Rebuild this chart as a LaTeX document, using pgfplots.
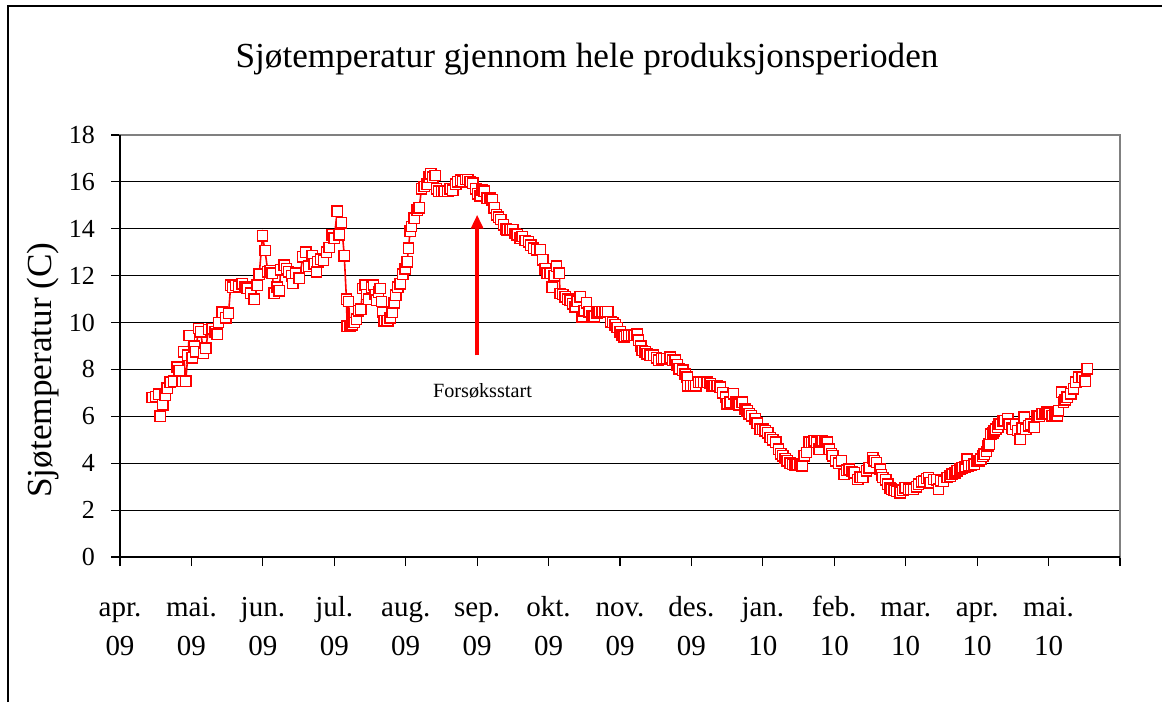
\documentclass[border=0pt]{standalone}
\usepackage{pgfplots}
\pgfplotsset{compat=1.18}
\usepackage{fontspec}
\setmainfont{Liberation Serif}
\usetikzlibrary{arrows.meta}
\definecolor{sred}{RGB}{255,0,0}
\begin{document}
\begin{tikzpicture}
\useasboundingbox (0,0) rectangle (581pt,-351pt);
\fill[white] (0,0) rectangle (581pt,-351pt);
\draw[line width=0.6pt] (4pt,-351pt) -- (4pt,-3pt) -- (581pt,-3pt);
\node[anchor=base, font=\fontsize{17.6}{20}\selectfont] at (293.5pt,-33.5pt) {Sjøtemperatur gjennom hele produksjonsperioden};
\node[anchor=base, rotate=90, font=\fontsize{17.6}{20}\selectfont] at (25.5pt,-185pt) {Sjøtemperatur (C)};
\begin{axis}[
  at={(60pt,-278.5pt)}, anchor=south west,
  width=500pt, height=211pt, scale only axis,
  xmin=0, xmax=14, ymin=0, ymax=18,
  xtick={0,...,14},
  xticklabels={{apr.\\09},{mai.\\09},{jun.\\09},{jul.\\09},{aug.\\09},{sep.\\09},{okt.\\09},{nov.\\09},{des.\\09},{jan.\\10},{feb.\\10},{mar.\\10},{apr.\\10},{mai.\\10},{}},
  ytick={0,2,...,18},
  ymajorgrids, grid style={black, line width=0.6pt},
  axis line style={draw=gray, line width=0.7pt},
  tick align=outside, xtick pos=bottom, ytick pos=left,
  major tick length=4.5pt, tick style={black, line width=0.6pt},
  xticklabel style={align=center, anchor=base, yshift=-44.5pt, font=\fontsize{14.5}{19.5}\selectfont},
  yticklabel style={xshift=-4.5pt, font=\fontsize{13}{15}\selectfont},
  /pgf/number format/assume math mode=true,
  clip=false,
]
\addplot[sred, line width=0.8pt, mark=square*, mark size=2.6pt, mark options={fill=white, draw=sred, line width=0.7pt, solid}] coordinates {
(0.45,6.8)(0.50,6.85)(0.54,6.95)(0.56,6.0)(0.60,6.5)(0.63,6.9)(0.66,7.2)(0.70,7.45)(0.75,7.5)(0.80,8.1)
(0.83,7.95)(0.87,7.5)(0.89,8.75)(0.92,7.5)(0.95,8.6)(0.97,9.45)(1.01,8.5)(1.04,9.0)(1.06,8.75)(1.10,9.75)
(1.13,9.6)(1.17,8.7)(1.20,8.9)(1.24,9.7)(1.29,9.75)(1.33,9.6)(1.36,9.5)(1.38,10.0)(1.43,10.45)(1.48,10.2)
(1.52,10.4)(1.55,11.6)(1.58,11.5)(1.62,11.6)(1.66,11.55)(1.71,11.65)(1.75,11.5)(1.78,11.45)(1.83,11.25)(1.88,11.0)
(1.92,11.6)(1.95,12.07)(1.995,13.7)(2.03,13.07)(2.07,12.17)(2.10,12.2)(2.13,12.1)(2.16,11.25)(2.20,11.5)(2.23,11.35)
(2.25,12.25)(2.30,12.45)(2.33,12.3)(2.36,12.17)(2.40,12.0)(2.42,11.67)(2.46,12.1)(2.51,11.9)(2.56,12.8)(2.60,13.0)
(2.64,12.4)(2.69,12.85)(2.72,12.5)(2.75,12.17)(2.77,12.6)(2.81,12.7)(2.85,12.65)(2.89,13.0)(2.93,13.2)(2.97,13.75)
(3.00,13.6)(3.04,14.75)(3.07,13.75)(3.10,14.25)(3.14,12.85)(3.17,11.0)(3.18,9.85)(3.20,10.9)(3.22,9.85)(3.25,9.9)
(3.28,10.0)(3.31,10.15)(3.34,10.5)(3.37,10.57)(3.40,11.45)(3.43,11.6)(3.45,11.2)(3.48,11.0)(3.52,11.5)(3.55,11.6)
(3.57,11.2)(3.59,10.95)(3.62,11.3)(3.64,11.45)(3.66,10.9)(3.68,10.45)(3.70,10.07)(3.73,10.07)(3.75,10.07)(3.78,10.2)
(3.81,10.45)(3.84,10.85)(3.86,11.17)(3.89,11.5)(3.92,11.65)(3.96,12.07)(3.99,12.3)(4.02,12.6)(4.04,13.17)(4.06,13.9)
(4.08,14.1)(4.12,14.45)(4.16,14.8)(4.19,14.9)(4.22,15.7)(4.26,15.8)(4.30,15.9)(4.33,16.2)(4.35,16.35)(4.38,16.2)
(4.41,16.27)(4.43,15.7)(4.46,15.6)(4.50,15.6)(4.54,15.6)(4.59,15.6)(4.62,15.7)(4.66,15.65)(4.70,15.9)(4.73,16.0)
(4.77,16.07)(4.80,16.0)(4.84,16.1)(4.87,16.1)(4.90,16.0)(4.94,15.95)(4.98,15.7)(5.01,15.5)(5.04,15.4)(5.07,15.65)
(5.10,15.6)(5.14,15.3)(5.18,15.3)(5.21,15.24)(5.24,14.9)(5.27,14.6)(5.30,14.5)(5.33,14.4)(5.37,14.17)(5.40,14.0)
(5.42,13.95)(5.46,13.95)(5.50,13.95)(5.53,13.8)(5.56,13.75)(5.60,13.6)(5.63,13.67)(5.67,13.5)(5.72,13.45)(5.75,13.3)
(5.79,13.17)(5.83,13.1)(5.88,13.1)(5.92,12.67)(5.95,12.3)(5.98,12.1)(6.02,12.1)(6.05,11.5)(6.08,12.0)(6.11,12.4)
(6.15,12.1)(6.16,11.24)(6.20,11.2)(6.23,11.1)(6.27,11.0)(6.30,10.96)(6.34,10.8)(6.37,10.67)(6.40,10.9)(6.44,11.1)
(6.47,10.24)(6.50,10.5)(6.53,10.84)(6.57,10.46)(6.61,10.3)(6.64,10.24)(6.68,10.4)(6.71,10.46)(6.75,10.46)(6.79,10.46)
(6.83,10.46)(6.87,10.03)(6.90,10.0)(6.93,9.9)(6.96,9.79)(7.00,9.6)(7.03,9.46)(7.06,9.4)(7.09,9.46)(7.12,9.46)
(7.16,9.46)(7.20,9.46)(7.24,9.5)(7.26,9.24)(7.29,9.0)(7.31,8.81)(7.35,8.75)(7.38,8.67)(7.42,8.6)(7.47,8.6)
(7.51,8.5)(7.54,8.39)(7.58,8.45)(7.61,8.46)(7.65,8.45)(7.70,8.53)(7.74,8.4)(7.77,8.39)(7.80,8.2)(7.83,8.03)
(7.88,7.96)(7.91,7.8)(7.94,7.67)(7.95,7.31)(7.99,7.3)(8.03,7.31)(8.06,7.31)(8.10,7.46)(8.13,7.46)(8.17,7.46)
(8.22,7.46)(8.26,7.4)(8.29,7.3)(8.32,7.31)(8.36,7.3)(8.40,7.24)(8.44,7.0)(8.48,6.81)(8.50,6.53)(8.54,6.6)
(8.59,6.96)(8.62,6.6)(8.64,6.53)(8.67,6.5)(8.71,6.6)(8.75,6.3)(8.78,6.24)(8.81,6.1)(8.84,6.03)(8.89,5.89)
(8.92,5.7)(8.96,5.46)(9.00,5.45)(9.03,5.39)(9.07,5.3)(9.10,5.1)(9.14,5.0)(9.18,4.89)(9.22,4.6)(9.25,4.4)
(9.28,4.31)(9.31,4.2)(9.34,4.1)(9.38,4.0)(9.42,3.95)(9.45,3.9)(9.48,3.96)(9.52,3.9)(9.55,3.89)(9.58,4.31)
(9.61,4.46)(9.65,4.89)(9.68,4.9)(9.72,4.96)(9.75,4.9)(9.79,4.6)(9.81,4.89)(9.83,4.96)(9.87,4.9)(9.90,4.89)
(9.93,4.6)(9.96,4.4)(9.98,4.31)(10.02,4.1)(10.06,4.0)(10.10,4.1)(10.14,3.53)(10.17,3.7)(10.21,3.74)(10.25,3.65)
(10.28,3.6)(10.33,3.31)(10.36,3.4)(10.40,3.39)(10.45,3.67)(10.49,3.81)(10.54,4.24)(10.56,4.1)(10.59,4.03)(10.64,3.74)
(10.66,3.5)(10.68,3.39)(10.72,3.3)(10.75,3.1)(10.78,2.95)(10.80,2.89)(10.84,2.85)(10.87,2.81)(10.92,2.74)(10.96,2.85)
(10.99,2.96)(11.04,2.89)(11.07,2.9)(11.11,2.89)(11.15,3.0)(11.18,3.1)(11.22,3.2)(11.25,3.24)(11.29,3.35)(11.32,3.39)
(11.34,3.17)(11.39,3.31)(11.43,3.3)(11.46,2.89)(11.49,3.25)(11.53,3.24)(11.58,3.39)(11.62,3.45)(11.65,3.53)(11.69,3.6)
(11.72,3.67)(11.76,3.75)(11.79,3.81)(11.83,3.85)(11.86,4.17)(11.88,3.89)(11.92,3.9)(11.96,3.96)(12.00,4.1)(12.03,4.1)
(12.05,4.17)(12.08,4.3)(12.10,4.39)(12.13,4.5)(12.15,4.74)(12.17,4.81)(12.19,5.24)(12.22,5.3)(12.24,5.39)(12.26,5.46)
(12.29,5.53)(12.31,5.67)(12.33,5.67)(12.36,5.81)(12.38,5.81)(12.43,5.89)(12.45,5.67)(12.48,5.5)(12.50,5.46)(12.54,5.67)
(12.57,5.4)(12.60,5.03)(12.63,5.5)(12.66,5.96)(12.68,5.46)(12.72,5.6)(12.75,5.67)(12.80,5.53)(12.84,6.03)(12.87,6.0)
(12.91,6.1)(12.95,6.1)(12.98,6.17)(13.01,6.1)(13.05,6.03)(13.09,6.05)(13.12,6.03)(13.14,6.24)(13.18,7.03)(13.21,6.6)
(13.23,6.7)(13.26,6.81)(13.31,6.96)(13.35,7.17)(13.38,7.46)(13.42,7.67)(13.47,7.67)(13.51,7.5)(13.54,8.03)
};
\draw[black, line width=0.7pt] (rel axis cs:0,1) -- (rel axis cs:0,0) -- (rel axis cs:1,0);
\draw[sred, line width=1.7pt, -{Triangle[length=7pt,width=6pt]}] (axis cs:5,8.6) -- (axis cs:5,14.6);
\node[anchor=base, font=\fontsize{10.1}{12}\selectfont] at (axis cs:5.075,6.81) {Forsøksstart};
\end{axis}
\end{tikzpicture}
\end{document}
